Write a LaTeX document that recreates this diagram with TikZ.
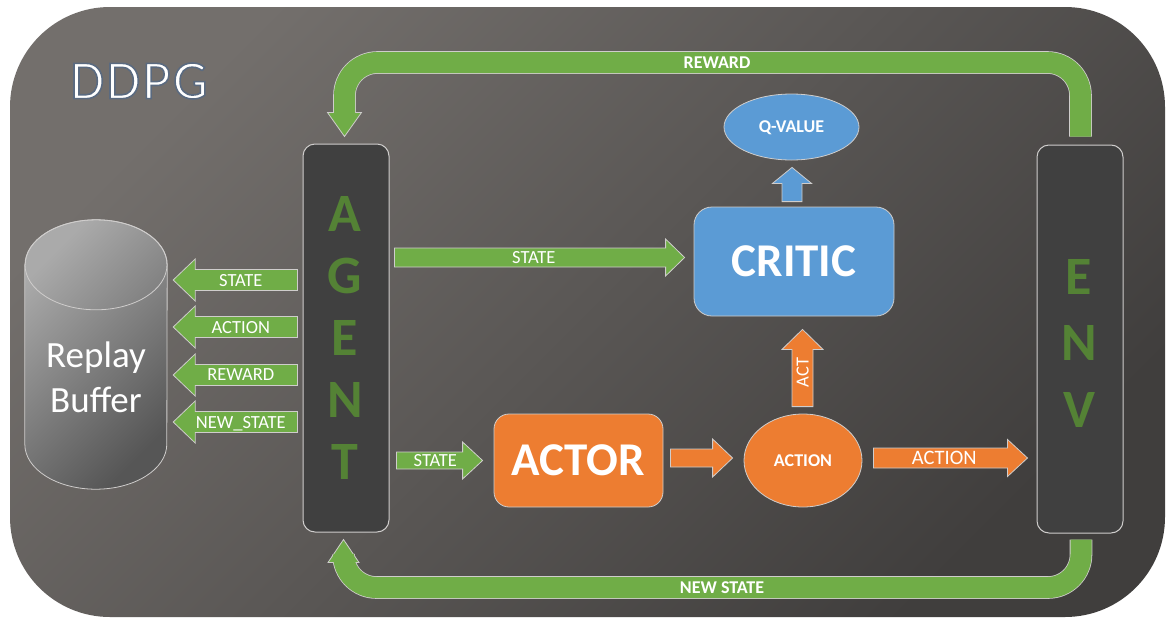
\documentclass[tikz,border=0pt]{standalone}
\usepackage{fontspec}
\setmainfont{Carlito}
\usetikzlibrary{calc,shapes.geometric}

\definecolor{bgtop}{HTML}{736F6C}
\definecolor{bgbot}{HTML}{403E3D}
\definecolor{ddgreen}{HTML}{70AD47}
\definecolor{ddorange}{HTML}{ED7D31}
\definecolor{ddblue}{HTML}{5B9BD5}
\definecolor{letgreen}{HTML}{548235}
\definecolor{panel}{HTML}{404040}
\definecolor{rim}{HTML}{CFCDCC}
\definecolor{cyltop}{HTML}{AAAAAA}
\definecolor{cylbot}{HTML}{565656}

% block arrow: #1 tail, #2 tip, #3 half shaft, #4 half head, #5 head length, #6 style
\newcommand\blockarrow[6]{%
  \coordinate (ba-b) at ($(#2)!#5!(#1)$);
  \draw[#6] ($(#1)!#3!90:(#2)$) -- ($(ba-b)!#3!90:(#2)$) -- ($(ba-b)!#4!90:(#2)$) -- (#2)
    -- ($(ba-b)!#4!-90:(#2)$) -- ($(ba-b)!#3!-90:(#2)$) -- ($(#1)!#3!-90:(#2)$) -- cycle;}

% outlined lettering: glyphs filled in the current colour and stroked in slate blue
\newcommand\outlinedtext[1]{%
  \special{pdf:literal direct q 2 Tr 1.6 w 0.353 0.416 0.502 RG}#1\special{pdf:literal direct Q}}

\tikzset{
  panelbox/.style={draw=rim, line width=1pt, fill=panel, rounded corners=12pt,
    minimum width=86pt, minimum height=388pt, inner sep=0pt},
  panelletters/.style={text=letgreen, font=\fontsize{54}{62}\selectfont\bfseries, align=center, inner sep=0pt},
  garrow/.style={fill=ddgreen, draw=rim, line width=0.8pt},
  oarrow/.style={fill=ddorange, draw=rim, line width=0.8pt},
  barrow/.style={fill=ddblue, draw=rim, line width=0.8pt},
  lbl/.style={text=white, font=\fontsize{18.5}{20}\selectfont, inner sep=0pt, text depth=0pt},
  blbl/.style={text=white, font=\fontsize{18}{20}\selectfont\bfseries, inner sep=0pt, text depth=0pt},
  bigbox/.style={draw=rim, line width=0.8pt, text=white, font=\fontsize{47}{50}\selectfont\bfseries},
  oval/.style={ellipse, draw=rim, line width=0.8pt, inner sep=0pt, text=white,
    font=\fontsize{18}{20}\selectfont\bfseries, text depth=0pt},
  titlefont/.style={font=\fontsize{55}{60}\selectfont\addfontfeature{LetterSpace=4}, inner sep=0pt},
  bandrim/.style={draw=rim, line width=22.6pt, rounded corners=33pt},
  band/.style={draw=ddgreen, line width=21pt, rounded corners=33pt},
}

\begin{document}
\begin{tikzpicture}[x=1pt, y=-1pt]
\useasboundingbox (0,0) rectangle (1168,619);
\fill[white] (0,0) rectangle (1168,619);

% backdrop
\shade[top color=bgtop, bottom color=bgbot, shading angle=45, rounded corners=100pt]
  (10,7) rectangle (1165,617);

% title
\node[titlefont, text=white] (title) at (139,81) {\outlinedtext{DDPG}};

% agent and environment panels
\node[panelbox] (agent) at (346,338) {};
\node[panelbox] (env) at (1080,339) {};
\node[panelletters] (agentword) at (345,338) {A\\G\\E\\N\\T};
\node[panelletters, font=\fontsize{54}{66.5}\selectfont\bfseries] (envword) at (1079,343) {E\\N\\V};

% replay buffer cylinder
\node[minimum width=142pt, minimum height=269pt, inner sep=0pt] (buffer) at (96,354.5) {};
\shade[top color=cyltop, bottom color=cylbot, shading angle=45, draw=rim, line width=0.8pt]
  ($(buffer.north west)+(0,45)$) -- ($(buffer.south west)+(0,-45)$)
  arc[start angle=180, end angle=360, x radius=71pt, y radius=45pt]
  -- ($(buffer.north east)+(0,45)$)
  arc[start angle=0, end angle=180, x radius=71pt, y radius=45pt] -- cycle;
\draw[rim, line width=0.8pt] ($(buffer.north)+(0,45)$) ellipse[x radius=71pt, y radius=45pt];
\node[anchor=base, text=white, font=\fontsize{37}{40}\selectfont, inner sep=0pt] (rb1) at (96,367) {Replay};
\node[anchor=base, text=white, font=\fontsize{37}{40}\selectfont, inner sep=0pt] (rb2) at (96,412) {Buffer};

% critic, actor, q-value, action
\node[bigbox, fill=ddblue, rounded corners=18pt, minimum width=200pt, minimum height=109pt] (critic) at (794,261.5) {CRITIC};
\node[bigbox, fill=ddorange, rounded corners=15pt, minimum width=169pt, minimum height=93pt] (actor) at (578.5,460.5) {ACTOR};
\node[oval, fill=ddblue, minimum width=135pt, minimum height=66pt] (qvalue) at (791.5,127) {Q-VALUE};
\node[oval, fill=ddorange, minimum width=118pt, minimum height=93pt] (action) at (803,460.5) {ACTION};

% transitions stored in the buffer
\foreach \y/\t/\n in {280/STATE/1, 327/ACTION/2, 375/REWARD/3, 422/{NEW\_STATE}/4}{
  \coordinate (ra\n) at ($(agent.west |- 0,\y)+(-5,0)$);
  \coordinate (rb\n) at ($(buffer.east |- 0,\y)+(6,0)$);
  \blockarrow{ra\n}{rb\n}{10.5pt}{21pt}{22pt}{garrow}
  \node[lbl] (rl\n) at ($(ra\n)!0.456!(rb\n)$) {\t};
}

% state to critic
\coordinate (c1) at ($(agent.east |- critic.west)+(5,-4)$);
\coordinate (c2) at ($(critic.west |- c1)+(-9,0)$);
\blockarrow{c1}{c2}{9.5pt}{18.5pt}{19pt}{garrow}
\node[lbl] (clbl) at ($(c1)!0.48!(c2)$) {STATE};

% state to actor
\coordinate (s1) at ($(agent.east |- actor.west)+(7,0)$);
\coordinate (s2) at ($(actor.west |- s1)+(-11,0)$);
\blockarrow{s1}{s2}{8.5pt}{18.5pt}{20pt}{garrow}
\node[lbl] (slbl) at ($(s1)!0.45!(s2)$) {STATE};

% actor to action
\coordinate (o1) at ($(actor.east)+(7,-2.5)$);
\coordinate (o2) at ($(action.west |- o1)+(-11,0)$);
\blockarrow{o1}{o2}{9pt}{19pt}{20pt}{oarrow}

% action to environment
\coordinate (e1) at ($(action.east)+(11,-2.5)$);
\coordinate (e2) at ($(env.west |- e1)+(-9,0)$);
\blockarrow{e1}{e2}{10pt}{18.5pt}{20pt}{oarrow}
\node[lbl, font=\fontsize{20.5}{22}\selectfont] (elbl) at ($(e1)!0.46!(e2)$) {ACTION};

% action to critic
\coordinate (a1) at ($(action.north)+(-0.5,-7)$);
\coordinate (a2) at ($(a1 |- critic.south)+(0,13)$);
\blockarrow{a1}{a2}{10.5pt}{20.5pt}{20pt}{oarrow}
\node[lbl, rotate=90] (albl) at ($(a1)!0.44!(a2)$) {ACT};

% critic to q-value
\coordinate (q1) at ($(critic.north)+(-2,-5)$);
\coordinate (q2) at ($(q1 |- qvalue.south)+(0,7)$);
\blockarrow{q1}{q2}{10pt}{19.5pt}{16pt}{barrow}

% reward loop (env -> agent, over the top)
\coordinate (rw1) at ($(env.north)+(0.5,-8)$);
\coordinate (rw2) at ($(agent.north)+(-1.5,-7)$);
\draw[bandrim] (rw1) -- (rw1 |- 0,62.5) -- (rw2 |- 0,62.5) -- ($(rw2)+(0,-23)$);
\draw[garrow] ($(rw2)+(-17,-24)$) -- (rw2) -- ($(rw2)+(17,-24)$) -- cycle;
\draw[band] (rw1) -- (rw1 |- 0,62.5) -- (rw2 |- 0,62.5) -- ($(rw2)+(0,-23)$);
\node[blbl] (rwlbl) at (717,62.5) {REWARD};

% new state loop (env -> agent, underneath)
\coordinate (ns1) at ($(env.south)+(1,6)$);
\coordinate (ns2) at ($(agent.south)+(-2.5,7)$);
\draw[bandrim] (ns1) -- (ns1 |- 0,587.5) -- (ns2 |- 0,587.5) -- ($(ns2)+(0,22)$);
\draw[garrow] ($(ns2)+(-15.5,23)$) -- (ns2) -- ($(ns2)+(15.5,23)$) -- cycle;
\draw[band] (ns1) -- (ns1 |- 0,587.5) -- (ns2 |- 0,587.5) -- ($(ns2)+(0,22)$);
\node[blbl] (nslbl) at (722,587.5) {NEW STATE};
\end{tikzpicture}
\end{document}
